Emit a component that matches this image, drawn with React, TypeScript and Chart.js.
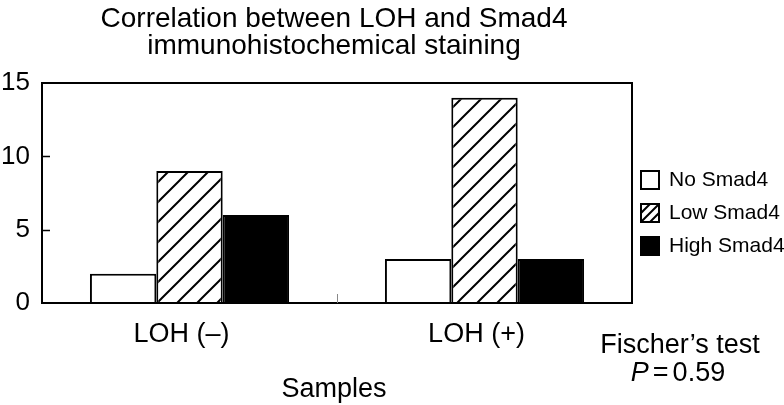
import React, { useEffect, useRef } from "react";
import { Chart, registerables } from "chart.js";

Chart.register(...registerables);

const categories = ["LOH (–)", "LOH (+)"];
const noSmad4 = [2, 3];
const lowSmad4 = [9, 14];
const highSmad4 = [6, 3];
const seriesNames = ["No Smad4", "Low Smad4", "High Smad4"];
const yTicks = [0, 5, 10, 15];
const titleLines = ["Correlation between LOH and Smad4", "immunohistochemical staining"];
const xTitle = "Samples";
const noteLine1 = "Fischer’s test";
const noteP = "P";
const noteValue = "0.59";

const FONT = "'Liberation Sans', Arial, Helvetica, sans-serif";

export default function App() {
  const ref = useRef<HTMLCanvasElement | null>(null);

  useEffect(() => {
    const canvas = ref.current;
    if (!canvas) return;
    const ctx = canvas.getContext("2d")!;

    const tile = document.createElement("canvas");
    tile.width = 20;
    tile.height = 20;
    const tg = tile.getContext("2d")!;
    tg.fillStyle = "#ffffff";
    tg.fillRect(0, 0, 20, 20);
    tg.strokeStyle = "#000000";
    tg.lineWidth = 2;
    tg.beginPath();
    tg.moveTo(-5, 25);
    tg.lineTo(25, -5);
    tg.moveTo(-5, 5);
    tg.lineTo(5, -5);
    tg.moveTo(15, 25);
    tg.lineTo(25, 15);
    tg.stroke();
    const hatch = ctx.createPattern(tile, "repeat")!;

    const fills: any[] = ["#ffffff", hatch, "#000000"];

    const decor = {
      id: "decor",
      afterDatasetsDraw(chart: any) {
        const c = chart.ctx;
        const a = chart.chartArea;
        const xs = chart.scales.x;
        const ys = chart.scales.y;
        c.save();
        // frame
        c.strokeStyle = "#000";
        c.lineWidth = 2;
        c.strokeRect(a.left, a.top, a.right - a.left, a.bottom - a.top);
        // inner y ticks
        c.lineWidth = 1.5;
        c.beginPath();
        for (const v of yTicks) {
          if (v === ys.min || v === ys.max) continue;
          const py = Math.round(ys.getPixelForValue(v)) + 0.5;
          c.moveTo(a.left, py);
          c.lineTo(a.left + 8, py);
        }
        c.stroke();
        // category divider tick
        const mid = (xs.getPixelForValue(0) + xs.getPixelForValue(1)) / 2;
        c.strokeStyle = "#888";
        c.lineWidth = 1;
        c.beginPath();
        c.moveTo(Math.round(mid) + 0.5, a.bottom);
        c.lineTo(Math.round(mid) + 0.5, a.bottom - 9);
        c.stroke();

        c.fillStyle = "#000";
        // title
        const cx = (a.left + a.right) / 2 - 3;
        c.font = `28px ${FONT}`;
        c.textAlign = "center";
        c.textBaseline = "alphabetic";
        c.fillText(titleLines[0], cx, 27);
        c.fillText(titleLines[1], cx, 54);
        // x title
        c.font = `27px ${FONT}`;
        c.fillText(xTitle, cx, 397);
        // note
        c.fillText(noteLine1, a.right + 48, 353);
        c.font = `italic 27px ${FONT}`;
        const pw = c.measureText(noteP).width;
        c.font = `27px ${FONT}`;
        const ew = c.measureText("=").width;
        const vw = c.measureText(noteValue).width;
        const gap = 4;
        const total = pw + gap + ew + gap + vw;
        let x0 = a.right + 46 - total / 2;
        c.textAlign = "left";
        c.font = `italic 27px ${FONT}`;
        c.fillText(noteP, x0, 381);
        x0 += pw + gap;
        c.font = `27px ${FONT}`;
        c.fillText("=", x0, 381);
        x0 += ew + gap;
        c.fillText(noteValue, x0, 381);

        // legend
        const lx = a.right + 9;
        const size = 18;
        c.font = `21px ${FONT}`;
        c.textBaseline = "middle";
        seriesNames.forEach((name, i) => {
          const cy = a.top + 97 + i * 33;
          const by = cy - size / 2;
          c.fillStyle = i === 2 ? "#000" : "#fff";
          c.fillRect(lx, by, size, size);
          if (i === 1) {
            c.save();
            c.beginPath();
            c.rect(lx, by, size, size);
            c.clip();
            c.strokeStyle = "#000";
            c.lineWidth = 2;
            c.beginPath();
            c.moveTo(lx - 2, by + size + 2);
            c.lineTo(lx + size + 2, by - 2);
            c.moveTo(lx + 7, by + size + 2);
            c.lineTo(lx + size + 2, by + 7);
            c.moveTo(lx - 2, by + 11);
            c.lineTo(lx + 11, by - 2);
            c.stroke();
            c.restore();
          }
          c.strokeStyle = "#000";
          c.lineWidth = 2;
          c.strokeRect(lx, by, size, size);
          c.fillStyle = "#000";
          c.textAlign = "left";
          c.fillText(name, lx + 28, cy);
        });
        c.restore();
      },
    };

    const chart = new Chart(ctx, {
      type: "bar",
      data: {
        labels: categories,
        datasets: [noSmad4, lowSmad4, highSmad4].map((d, i) => ({
          label: seriesNames[i],
          data: d,
          backgroundColor: fills[i],
          borderColor: "#000000",
          borderWidth: 2,
          borderSkipped: "bottom",
          categoryPercentage: 0.675,
          barPercentage: 1,
        })),
      },
      options: {
        responsive: false,
        animation: false,
        devicePixelRatio: 1,
        layout: { padding: { top: 83, right: 152, left: 0, bottom: 0 } },
        plugins: {
          legend: { display: false },
          title: { display: false },
          tooltip: { enabled: false },
        },
        scales: {
          x: {
            grid: { display: false, drawTicks: false },
            border: { display: false },
            ticks: {
              color: "#000",
              font: { family: FONT, size: 27 },
              padding: 15,
              labelOffset: -8,
            },
            afterFit: (s: any) => {
              s.height = 102;
            },
          },
          y: {
            min: 0,
            max: 15,
            grid: { display: false, drawTicks: false },
            border: { display: false },
            afterBuildTicks: (s: any) => {
              s.ticks = yTicks.map((v) => ({ value: v }));
            },
            ticks: {
              color: "#000",
              font: { family: FONT, size: 26 },
              padding: 12,
            },
            afterFit: (s: any) => {
              s.width = 42;
            },
          },
        },
      },
      plugins: [decor],
    });

    return () => chart.destroy();
  }, []);

  return (
    <div style={{ position: "absolute", left: 0, top: 0, width: 784, height: 405, background: "#fff" }}>
      <canvas ref={ref} width={784} height={405} style={{ width: 784, height: 405, display: "block" }} />
    </div>
  );
}
